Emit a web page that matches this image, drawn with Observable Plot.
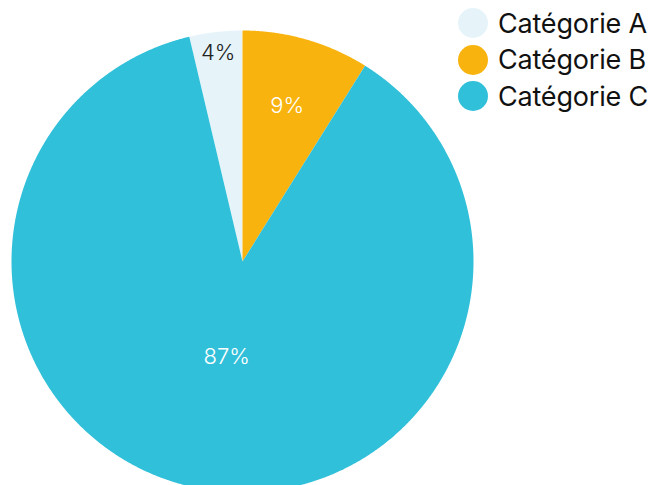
<!DOCTYPE html>
<html><head><meta charset="utf-8">
<script src="https://cdn.jsdelivr.net/npm/d3@7"></script>
<script src="https://cdn.jsdelivr.net/npm/@observablehq/plot@0.6"></script>
<style>
html,body{margin:0;padding:0;background:#fff;font-family:Inter,"Noto Sans",sans-serif;}
#wrap{position:relative;width:657px;height:485px;overflow:hidden;}
#legend{position:absolute;left:458px;top:5px;}
.item{display:flex;align-items:center;height:36.5px;font-size:27px;color:#111;white-space:nowrap;letter-spacing:-0.2px;}
.sw{width:30px;height:30px;border-radius:50%;margin-right:10px;flex:none;}
</style></head><body><div id="wrap"><div id="legend"></div></div>
<script>
const categories = ["Catégorie A", "Catégorie B", "Catégorie C"];
const values = [3.7, 8.9, 87.4];
const labels = ["4%", "9%", "87%"];
const colors = ["#e6f4fa", "#f9b30f", "#31c0d9"];
const labelColors = ["#222222", "#ffffff", "#ffffff"];
const labelRadius = [0.91, 0.70, 0.42];

const R = 231;
const total = d3.sum(values);
const start = -values[0] / total * 2 * Math.PI;
const pts = [];
const labs = [];
let a = start;
values.forEach((v, i) => {
  const a0 = a, a1 = a + v / total * 2 * Math.PI;
  const cat = categories[i];
  pts.push({cat, x: 0, y: 0});
  const n = Math.max(2, Math.ceil((a1 - a0) / 0.005));
  for (let k = 0; k <= n; k++) {
    const t = a0 + (a1 - a0) * k / n;
    pts.push({cat, x: R * Math.sin(t), y: R * Math.cos(t)});
  }
  pts.push({cat, x: 0, y: 0});
  const m = (a0 + a1) / 2;
  labs.push({cat, text: labels[i], color: labelColors[i],
    x: R * labelRadius[i] * Math.sin(m), y: R * labelRadius[i] * Math.cos(m)});
  a = a1;
});

const chart = Plot.plot({
  width: 657, height: 485,
  margin: 0,
  x: {domain: [-242, 415], range: [0, 657], axis: null},
  y: {domain: [-224, 261], range: [485, 0], axis: null},
  color: {domain: categories, range: colors},
  style: {fontFamily: "Inter, 'Noto Sans', sans-serif", background: "white"},
  marks: [
    Plot.line(pts, {x: "x", y: "y", z: "cat", fill: "cat", stroke: null, curve: "linear"}),
    Plot.text(labs, {x: "x", y: "y", text: "text", fill: "color", fontSize: 22, fontWeight: 300})
  ]
});
document.getElementById("wrap").prepend(chart);

const legend = document.getElementById("legend");
categories.forEach((c, i) => {
  const it = document.createElement("div");
  it.className = "item";
  const sw = document.createElement("div");
  sw.className = "sw";
  sw.style.background = colors[i];
  const tx = document.createElement("span");
  tx.textContent = c;
  it.append(sw, tx);
  legend.append(it);
});
</script>
</body></html>
